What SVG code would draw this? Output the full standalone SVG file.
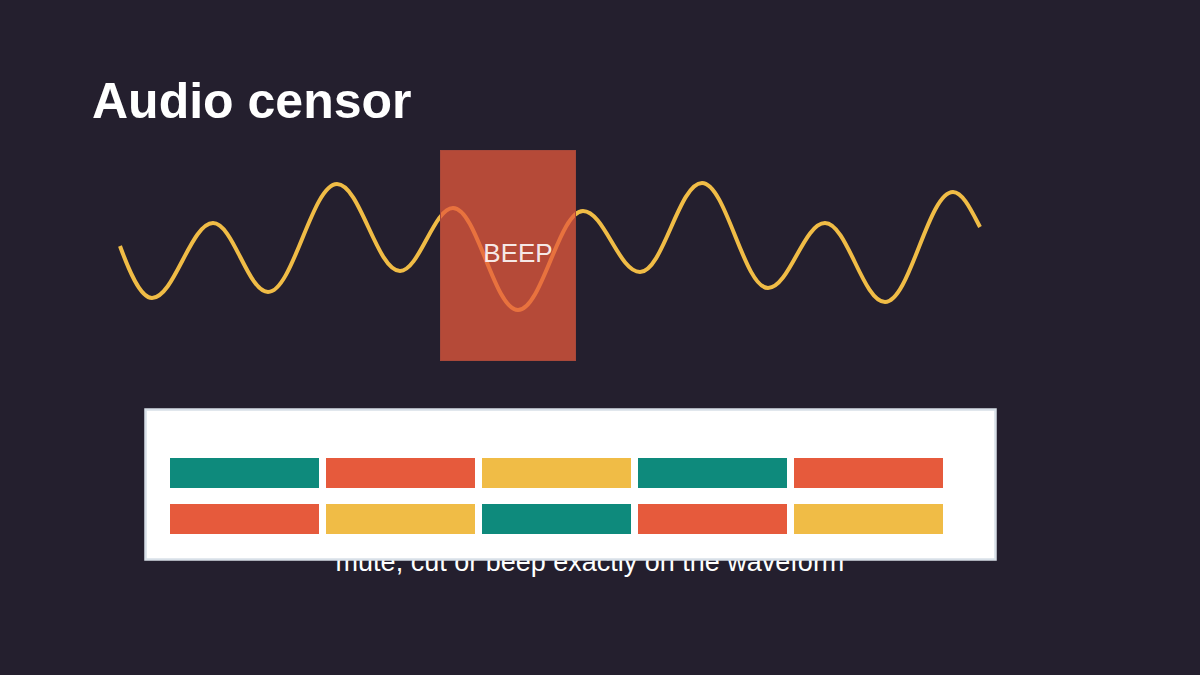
<svg xmlns="http://www.w3.org/2000/svg" width="1200" height="675" viewBox="0 0 1200 675">
  <style>
    .title { font-family: "Liberation Sans", Arial, sans-serif; font-weight: bold; font-size: 50px; fill: #ffffff; }
    .beep { font-family: "Liberation Sans", Arial, sans-serif; font-size: 26px; fill: #ffffff; fill-opacity: 0.9; }
    .caption { font-family: "Liberation Sans", Arial, sans-serif; font-size: 27px; fill: #ffffff; }
    .wave { fill: none; stroke: #f0bc46; stroke-width: 4; stroke-linejoin: round; }
    .teal { fill: #0e8a7c; }
    .red { fill: #e65a3c; }
    .yellow { fill: #f0bc46; }
  </style>
  <rect x="0" y="0" width="1200" height="675" fill="#241f2e"/>
  <text class="title" x="92" y="118">Audio censor</text>

  <g id="waveform">
    <path class="wave" d="M120,246 C128,268 140,298 152,298 C174,298 191,223 213,223 C233,223 248,292 268,292 C293,292 312,184 337,184 C360,184 377,271 400,271 C419,271 434,208 453,208 C477,208 494,310 518,310 C542,310 559,211 583,211 C604,211 619,272 640,272 C663,272 679,183 702,183 C726,183 744,288 768,288 C789,288 804,223 825,223 C847,223 863,302 885,302 C910,302 928,192 953,192 C963,192 972,212 980,227"/>
  </g>

  <g id="beep-region">
    <rect x="440.5" y="150.5" width="135" height="210" fill="#e65a3c" fill-opacity="0.75" stroke="#a8483a" stroke-width="1"/>
    <text class="beep" x="518" y="262" text-anchor="middle">BEEP</text>
  </g>

  <text class="caption" x="590" y="571" text-anchor="middle">mute, cut or beep exactly on the waveform</text>

  <g id="timeline-panel">
    <rect x="145.5" y="409.5" width="850" height="150" fill="#ffffff" stroke="#d8e0e8" stroke-width="2.5"/>
    <rect class="teal" x="170" y="458" width="149" height="30"/>
    <rect class="red" x="326" y="458" width="149" height="30"/>
    <rect class="yellow" x="482" y="458" width="149" height="30"/>
    <rect class="teal" x="638" y="458" width="149" height="30"/>
    <rect class="red" x="794" y="458" width="149" height="30"/>
    <rect class="red" x="170" y="504" width="149" height="30"/>
    <rect class="yellow" x="326" y="504" width="149" height="30"/>
    <rect class="teal" x="482" y="504" width="149" height="30"/>
    <rect class="red" x="638" y="504" width="149" height="30"/>
    <rect class="yellow" x="794" y="504" width="149" height="30"/>
  </g>
</svg>
